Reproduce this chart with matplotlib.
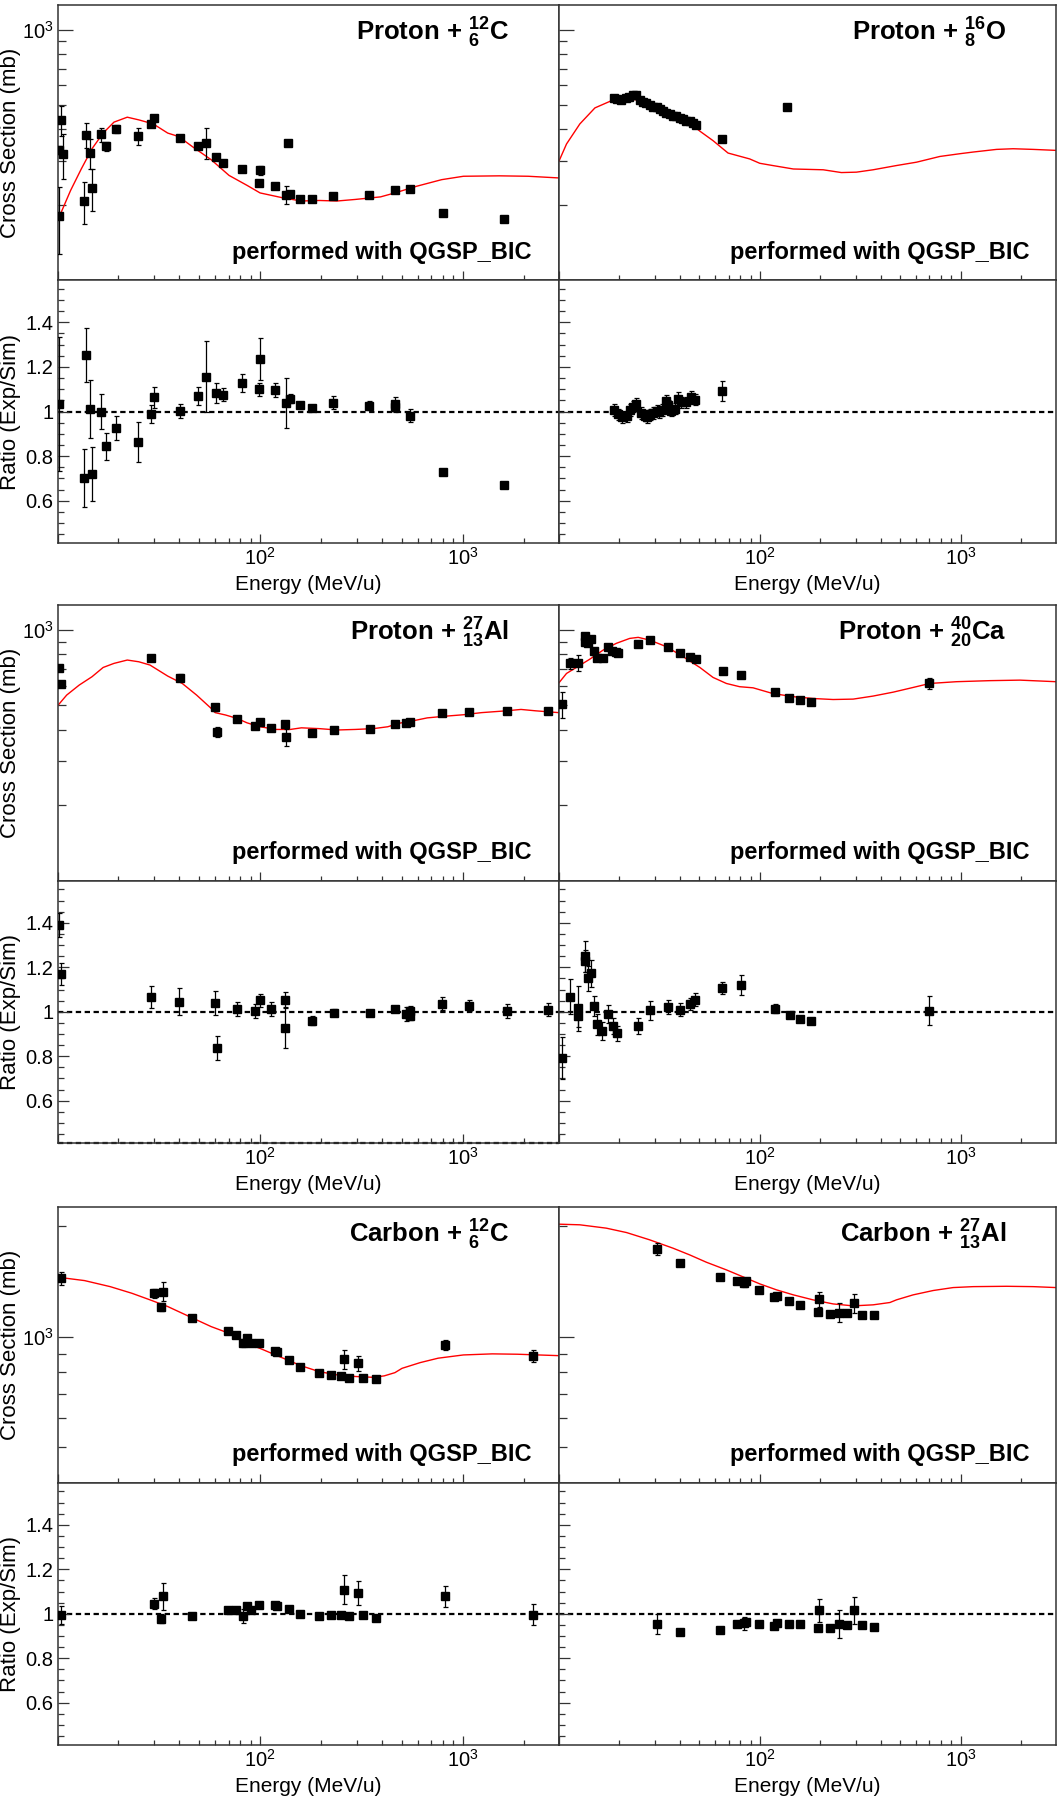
"""
Reaction cross sections vs energy: data compared with QGSP_BIC simulation,
with Exp/Sim ratio panels underneath.
"""

import matplotlib.pyplot as plt
import matplotlib.ticker as mticker
import numpy as np

# ── Data ──────────────────────────────────────────────────────────────────────

# Proton + 12C
pC_E      = [10.2, 10.2, 10.4, 10.7, 13.5, 13.8, 14.5, 14.8, 16.4, 17.4, 19.5, 24.9, 28.9, 30.0, 40.1, 49.2, 54.1,
             60.7, 65.3, 81.2, 100, 99, 119, 134, 141, 137, 158, 180, 230, 344, 463, 552, 798, 1596]
pC_xs     = [181, 332, 435, 318, 207, 381, 323, 234, 382, 343, 401, 376, 419, 445, 371, 345, 354,
             310, 295, 277, 275, 244, 237, 219, 221, 353, 211, 210, 216, 219, 230, 231, 186, 175]
pC_xs_err = [54, 12, 60, 65, 39, 45, 45, 45, 25, 15, 15, 30, 8, 10, 0, 5, 50,
             8, 0, 5, 12, 0, 0, 18, 0, 0, 0, 0, 0, 0, 0, 0, 0, 0]
pC_rE     = [10.2, 13.5, 13.8, 14.5, 14.8, 16.4, 17.4, 19.5, 24.9, 28.9, 30.0, 40.1, 49.2, 54.1, 60.7, 65.3,
             81.2, 100, 99, 119, 134, 141, 158, 180, 230, 344, 463, 463, 552, 798, 1596]
pC_ratio  = [1.033, 0.702, 1.253, 1.010, 0.720, 1.000, 0.844, 0.927, 0.864, 0.987, 1.064, 1.003, 1.070, 1.157,
             1.082, 1.076, 1.127, 1.237, 1.099, 1.097, 1.037, 1.057, 1.028, 1.015, 1.040, 1.025, 1.033, 1.020,
             0.982, 0.730, 0.672]
pC_ratio_err = [0.30, 0.13, 0.12, 0.13, 0.12, 0.08, 0.06, 0.055, 0.09, 0.04, 0.047, 0.03, 0.04, 0.16, 0.045,
                0.03, 0.04, 0.095, 0.03, 0.033, 0.113, 0.02, 0.015, 0.01, 0.028, 0.02, 0.03, 0.02, 0.03,
                0.01, 0.01]
pC_sim_E  = [10.0, 10.5, 11.6, 13.1, 14.8, 16.8, 19.0, 22.1, 25.2, 29.7, 35.0, 39.6, 46.7, 57.3, 70.3, 86.3,
             100, 130, 160, 196, 240, 295, 393, 463, 591, 788, 1009, 1518, 2108, 2985]
pC_sim_xs = [173, 189, 228, 278, 335, 387, 428, 448, 437, 421, 387, 375, 340, 303, 262, 239,
             223, 213, 207, 208, 207, 210, 215, 223, 237, 252, 260, 261, 260, 256]

# Proton + 16O
pO_E      = [18.7, 19.5, 20.4, 21.5, 22.3, 23.4, 24.3, 25.2, 26.2, 27.2, 28.3, 29.4, 30.6, 31.7, 33.0, 34.3,
             35.6, 37.0, 38.4, 39.9, 41.5, 43.1, 44.8, 46.6, 48.0, 65.2, 137]
pO_xs     = [533, 530, 525, 535, 542, 550, 552, 525, 514, 510, 503, 494, 494, 484, 476, 465,
             462, 455, 451, 445, 441, 434, 432, 424, 417, 366, 493]
pO_xs_err = [6, 6, 6, 6, 6, 6, 6, 6, 6, 6, 6, 6, 6, 6, 6, 6,
             6, 6, 6, 6, 6, 6, 6, 6, 6, 10, 0]
pO_rE     = [18.7, 19.7, 20.7, 21.7, 22.5, 23.4, 24.3, 25.7, 26.7, 27.5, 28.3, 29.4, 30.6, 31.5, 32.7, 34.0,
             34.9, 36.3, 37.7, 39.2, 40.7, 43.1, 45.6, 47.4, 65.2]
pO_ratio  = [1.007, 0.987, 0.975, 0.979, 1.007, 1.022, 1.034, 0.993, 0.982, 0.975, 0.987, 0.993, 1.004, 0.997,
             1.007, 1.046, 1.027, 1.004, 1.012, 1.057, 1.042, 1.042, 1.067, 1.052, 1.094]
pO_ratio_err = [0.025, 0.025, 0.025, 0.025, 0.025, 0.025, 0.025, 0.025, 0.025, 0.025, 0.025, 0.025, 0.025,
                0.025, 0.025, 0.03, 0.025, 0.025, 0.025, 0.03, 0.025, 0.025, 0.025, 0.025, 0.045]
pO_sim_E  = [10.0, 10.9, 12.7, 15.1, 18.6, 21.7, 25.2, 30.6, 37.0, 41.5, 50.3, 58.5, 69.5, 89.1, 100, 116,
             147, 207, 255, 303, 367, 480, 604, 789, 993, 1157, 1512, 1829, 2301, 2985]
pO_sim_xs = [299, 350, 421, 488, 525, 535, 522, 498, 469, 448, 394, 361, 322, 305, 293, 287,
             278, 276, 269, 270, 276, 287, 296, 312, 320, 325, 333, 335, 333, 330]

# Proton + 27Al
pAl_E      = [10.2, 10.4, 29.0, 40.1, 60.0, 61.1, 76.9, 94.8, 99.6, 113, 133, 134, 180, 233, 347, 463, 527,
              552, 792, 1072, 1655, 2642]
pAl_xs     = [705, 611, 775, 645, 491, 391, 442, 414, 428, 407, 423, 373, 389, 400, 401, 421, 425,
              429, 465, 470, 475, 476]
pAl_xs_err = [15, 17, 17, 20, 18, 18, 0, 0, 8, 0, 10, 30, 0, 0, 0, 0, 0, 0, 0, 0, 0, 0]
pAl_rE     = [10.2, 10.4, 28.9, 40.0, 60.0, 61.1, 76.9, 94.4, 99.6, 113, 133, 133, 180, 233, 347, 463, 527,
              552, 552, 792, 1072, 1648, 2642]
pAl_ratio  = [1.390, 1.169, 1.066, 1.046, 1.040, 0.835, 1.012, 1.003, 1.052, 1.013, 1.055, 0.928, 0.960,
              0.996, 0.993, 1.012, 0.990, 1.004, 0.981, 1.036, 1.028, 1.003, 1.010]
pAl_ratio_err = [0.055, 0.05, 0.05, 0.06, 0.055, 0.054, 0.032, 0.03, 0.03, 0.033, 0.033, 0.09, 0.02,
                 0.015, 0.012, 0.015, 0.03, 0.02, 0.02, 0.03, 0.025, 0.03, 0.03]
pAl_sim_E  = [10.0, 11.1, 12.8, 14.8, 16.8, 19.0, 22.1, 25.2, 28.6, 35.0, 41.3, 48.6, 57.3, 60.0, 67.5, 76.9,
              86.3, 100, 120, 141, 160, 196, 240, 295, 362, 427, 482, 568, 669, 822, 1009, 1239, 1648, 1941,
              2286, 2985]
pAl_sim_xs = [498, 550, 603, 651, 709, 736, 759, 747, 725, 655, 612, 550, 487, 468, 458, 444,
              426, 411, 401, 401, 407, 404, 399, 401, 404, 411, 424, 434, 446, 453, 459, 468, 476, 482,
              476, 468]

# Proton + 40Ca
pCa_E      = [10.3, 11.4, 12.4, 13.4, 13.5, 13.9, 14.5, 15.0, 15.5, 16.5, 17.6, 18.4, 19.2, 19.7, 24.8, 28.4,
              34.9, 40.1, 45.1, 48.0, 65.5, 80.8, 119, 140, 158, 180, 698]
pCa_xs     = [506, 736, 740, 946, 898, 890, 920, 824, 770, 770, 858, 827, 817, 807, 879, 912,
              853, 809, 778, 768, 688, 659, 564, 537, 525, 517, 614]
pCa_xs_err = [60, 40, 55, 25, 15, 10, 15, 10, 10, 10, 8, 5, 0, 8, 10, 12,
              0, 0, 0, 0, 0, 8, 0, 0, 0, 0, 30]
pCa_rE     = [10.3, 11.3, 12.4, 12.4, 13.4, 13.4, 13.9, 14.4, 14.9, 15.5, 16.4, 17.5, 18.5, 19.5, 24.8, 28.4,
              34.8, 39.9, 45.0, 47.8, 65.2, 80.7, 119, 141, 158, 180, 698]
pCa_ratio  = [0.793, 1.067, 1.015, 0.982, 1.250, 1.229, 1.150, 1.172, 1.028, 0.943, 0.915, 0.990, 0.937,
              0.903, 0.937, 1.006, 1.021, 1.009, 1.036, 1.054, 1.106, 1.120, 1.013, 0.985, 0.969, 0.957, 1.004]
pCa_ratio_err = [0.095, 0.078, 0.1, 0.05, 0.07, 0.05, 0.055, 0.06, 0.045, 0.048, 0.04, 0.04, 0.035, 0.035,
                 0.035, 0.043, 0.03, 0.03, 0.028, 0.03, 0.028, 0.043, 0.02, 0.01, 0.01, 0.01, 0.065]
pCa_sim_E  = [10.0, 10.9, 12.2, 14.2, 16.6, 19.3, 22.5, 24.8, 28.3, 34.3, 41.5, 50.3, 58.5, 68.2, 79.4, 92.6,
              116, 147, 184, 232, 292, 367, 462, 581, 703, 955, 1400, 1977, 2985]
pCa_sim_xs = [616, 671, 709, 764, 832, 885, 926, 935, 912, 858, 783, 709, 647, 612, 594, 588,
              558, 542, 533, 528, 530, 545, 565, 590, 612, 622, 628, 631, 622]

# Carbon + 12C
cC_E      = [10.4, 29.8, 33.0, 32.4, 45.9, 69.7, 76.3, 82.8, 86.3, 89.9, 98.8, 118, 121, 139, 157, 195,
             225, 250, 259, 274, 305, 324, 373, 815, 2223]
cC_xs     = [1443, 1315, 1329, 1205, 1127, 1038, 1013, 961, 996, 965, 961, 916, 908, 866, 830, 796,
             788, 780, 869, 773, 848, 771, 768, 949, 889]
cC_xs_err = [60, 35, 80, 30, 0, 0, 0, 25, 0, 0, 0, 0, 0, 0, 0, 0,
             0, 0, 50, 0, 40, 0, 0, 30, 35]
cC_ratio  = [0.993, 1.046, 1.079, 0.978, 0.988, 1.019, 1.019, 0.990, 1.037, 1.019, 1.039, 1.040, 1.034,
             1.022, 1.000, 0.990, 0.994, 0.994, 1.109, 0.990, 1.093, 0.994, 0.982, 1.078, 0.996]
cC_ratio_err = [0.04, 0.025, 0.06, 0.02, 0.005, 0.005, 0.005, 0.03, 0.005, 0.005, 0.005, 0.005, 0.005,
                0.005, 0.005, 0.005, 0.005, 0.005, 0.065, 0.005, 0.052, 0.005, 0.005, 0.047, 0.047]
cC_sim_E  = [10.0, 13.6, 18.2, 23.3, 28.6, 35.0, 44.8, 57.3, 70.3, 86.3, 102, 130, 160, 196, 240, 295,
             362, 410, 463, 502, 617, 757, 1009, 1400, 1863, 2985]
cC_sim_xs = [1455, 1424, 1371, 1315, 1262, 1210, 1136, 1067, 1023, 961, 926, 875, 834, 804, 788, 780,
             776, 783, 799, 821, 851, 875, 893, 899, 897, 889]

# Carbon + 27Al
cAl_E      = [30.6, 40.1, 63.4, 76.7, 83.2, 85.8, 98.9, 118, 122, 140, 158, 198, 196, 224, 249, 273, 294,
              324, 371]
cAl_xs     = [1738, 1595, 1455, 1424, 1401, 1416, 1346, 1283, 1294, 1254, 1223, 1269, 1170, 1155, 1165,
              1160, 1235, 1148, 1148]
cAl_xs_err = [70, 0, 0, 0, 30, 0, 0, 0, 0, 0, 0, 60, 0, 0, 70, 0, 70, 0, 0]
cAl_ratio  = [0.952, 0.918, 0.928, 0.952, 0.957, 0.964, 0.955, 0.945, 0.960, 0.955, 0.955, 1.015, 0.937,
              0.937, 0.955, 0.951, 1.016, 0.949, 0.942]
cAl_ratio_err = [0.045, 0.005, 0.005, 0.005, 0.03, 0.005, 0.005, 0.005, 0.005, 0.005, 0.005, 0.05, 0.005,
                 0.005, 0.064, 0.005, 0.06, 0.005, 0.005]
cAl_sim_E  = [10.0, 12.7, 17.2, 21.7, 28.3, 37.0, 44.8, 54.2, 68.2, 85.8, 100, 121, 147, 184, 232, 292,
              367, 445, 480, 581, 731, 919, 1157, 1695, 2301, 2985]
cAl_sim_xs = [2029, 2021, 1979, 1925, 1839, 1745, 1673, 1598, 1523, 1445, 1395, 1344, 1302, 1262, 1230, 1215,
              1223, 1241, 1262, 1302, 1338, 1363, 1371, 1374, 1371, 1363]

titles = [
    r"Proton + ${}^{\mathbf{12}}_{\mathbf{6}}\mathbf{C}$",
    r"Proton + ${}^{\mathbf{16}}_{\mathbf{8}}\mathbf{O}$",
    r"Proton + ${}^{\mathbf{27}}_{\mathbf{13}}\mathbf{Al}$",
    r"Proton + ${}^{\mathbf{40}}_{\mathbf{20}}\mathbf{Ca}$",
    r"Carbon + ${}^{\mathbf{12}}_{\mathbf{6}}\mathbf{C}$",
    r"Carbon + ${}^{\mathbf{27}}_{\mathbf{13}}\mathbf{Al}$",
]
model_note = "performed with QGSP_BIC"
x_title = "Energy (MeV/u)"
xs_title = "Cross Section (mb)"
ratio_title = "Ratio (Exp/Sim)"

# ── Style ─────────────────────────────────────────────────────────────────────

W, H = 1061, 1800
FRAME = "#333333"
XLIM = (10, 2990)
RATIO_YLIM = (0.41, 1.59)
XS_YLIMS = [(100, 1259), (100, 1259), (401, 2260)]

# pixel layout: (top of xs panel, xs/ratio border, bottom of ratio panel)
BLOCKS = [(5, 280, 543), (605, 880.5, 1143), (1207, 1482.5, 1745)]
COLS = [(57.5, 559), (559, 1056)]

plt.rcParams.update({
    "font.family": ["Liberation Sans", "DejaVu Sans"],
    "font.size": 14.5,
    "mathtext.fontset": "custom",
    "mathtext.rm": "Liberation Sans",
    "mathtext.it": "Liberation Sans:italic",
    "mathtext.bf": "Liberation Sans:bold",
    "mathtext.default": "regular",
})

fig = plt.figure(figsize=(W / 100, H / 100), dpi=100)


def add_axes_px(x0, y0, x1, y1):
    return fig.add_axes([x0 / W, 1 - y1 / H, (x1 - x0) / W, (y1 - y0) / H])


def pow_fmt(labels):
    def fmt(v, _):
        for key, lab in labels.items():
            if np.isclose(v, key):
                return lab
        return ""
    return mticker.FuncFormatter(fmt)


def frame(ax):
    for s in ax.spines.values():
        s.set_color(FRAME)
        s.set_linewidth(1.1)
    ax.tick_params(which="both", direction="in", color=FRAME, width=0.9,
                   top=False, right=False, labelsize=14.5)


def log_x(ax):
    ax.set_xscale("log")
    ax.set_xlim(*XLIM)
    ax.xaxis.set_major_locator(mticker.FixedLocator([10, 100, 1000]))
    ax.xaxis.set_minor_locator(mticker.LogLocator(base=10, subs=np.arange(2, 10), numticks=20))
    ax.xaxis.set_minor_formatter(mticker.NullFormatter())
    ax.xaxis.set_major_formatter(pow_fmt({100: "$10^{2}$", 1000: "$10^{3}$"}))
    ax.tick_params(axis="x", which="major", length=6.5, pad=3)
    ax.tick_params(axis="x", which="minor", length=3.5)


def style_xs(ax, ylim, show_labels):
    frame(ax)
    log_x(ax)
    ax.set_yscale("log")
    ax.set_ylim(*ylim)
    ax.yaxis.set_major_locator(mticker.LogLocator(base=10, numticks=10))
    ax.yaxis.set_minor_locator(mticker.LogLocator(base=10, subs=np.arange(2, 10), numticks=20))
    ax.yaxis.set_minor_formatter(mticker.NullFormatter())
    ax.yaxis.set_major_formatter(pow_fmt({1000: "$10^{3}$"}))
    ax.tick_params(axis="y", which="major", length=11, pad=3, labelleft=show_labels)
    ax.tick_params(axis="y", which="minor", length=5.5)
    ax.tick_params(axis="x", labelbottom=False)


def style_ratio(ax, show_labels):
    frame(ax)
    log_x(ax)
    ax.set_ylim(*RATIO_YLIM)
    ax.yaxis.set_major_locator(mticker.MultipleLocator(0.2))
    ax.yaxis.set_minor_locator(mticker.MultipleLocator(0.05))
    ax.yaxis.set_major_formatter(mticker.FuncFormatter(lambda v, _: f"{v:g}"))
    ax.tick_params(axis="y", which="major", length=8, pad=3, labelleft=show_labels)
    ax.tick_params(axis="y", which="minor", length=4.3)


def draw_points(ax, x, y, yerr):
    ax.errorbar(x, y, yerr=yerr, fmt="s", ms=6, color="black", mec="black",
                ecolor="black", elinewidth=0.9, capsize=1.8, capthick=0.9, zorder=3)


panels = [
    (pC_E, pC_xs, pC_xs_err, pC_sim_E, pC_sim_xs, pC_rE, pC_ratio, pC_ratio_err),
    (pO_E, pO_xs, pO_xs_err, pO_sim_E, pO_sim_xs, pO_rE, pO_ratio, pO_ratio_err),
    (pAl_E, pAl_xs, pAl_xs_err, pAl_sim_E, pAl_sim_xs, pAl_rE, pAl_ratio, pAl_ratio_err),
    (pCa_E, pCa_xs, pCa_xs_err, pCa_sim_E, pCa_sim_xs, pCa_rE, pCa_ratio, pCa_ratio_err),
    (cC_E, cC_xs, cC_xs_err, cC_sim_E, cC_sim_xs, cC_E, cC_ratio, cC_ratio_err),
    (cAl_E, cAl_xs, cAl_xs_err, cAl_sim_E, cAl_sim_xs, cAl_E, cAl_ratio, cAl_ratio_err),
]

for i, (E, xs, xs_err, sim_E, sim_xs, rE, ratio, ratio_err) in enumerate(panels):
    b, c = divmod(i, 2)
    top, mid, bot = BLOCKS[b]
    x0, x1 = COLS[c]

    ax = add_axes_px(x0, top, x1, mid)
    ax.plot(sim_E, sim_xs, color="red", lw=1.0, zorder=2)
    draw_points(ax, E, xs, xs_err)
    style_xs(ax, XS_YLIMS[b], show_labels=(c == 0))
    ax.text(0.90, 0.898, titles[i], transform=ax.transAxes, ha="right", va="center",
            fontsize=18.5, fontweight="bold")
    ax.text(0.946, 0.10, model_note, transform=ax.transAxes, ha="right", va="center",
            fontsize=17, fontweight="bold")

    rax = add_axes_px(x0, mid, x1, bot)
    rax.axhline(1.0, color="black", lw=1.6, ls=(0, (2.4, 1.6)), zorder=1)
    if i == 2:
        rax.axhline(RATIO_YLIM[0], color="black", lw=1.6, ls=(0, (2.4, 1.6)), zorder=1, clip_on=False)
    draw_points(rax, rE, ratio, ratio_err)
    style_ratio(rax, show_labels=(c == 0))

    fig.text((x0 + x1) / 2 / W, 1 - (bot + 41) / H, x_title, ha="center", va="center", fontsize=15)
    if c == 0:
        fig.text(11 / W, 1 - (top + mid) / 2 / H, xs_title, rotation=90,
                 ha="center", va="center", fontsize=16)
        fig.text(11 / W, 1 - (mid + bot) / 2 / H, ratio_title, rotation=90,
                 ha="center", va="center", fontsize=16)

fig.savefig("out.png", dpi=100)
